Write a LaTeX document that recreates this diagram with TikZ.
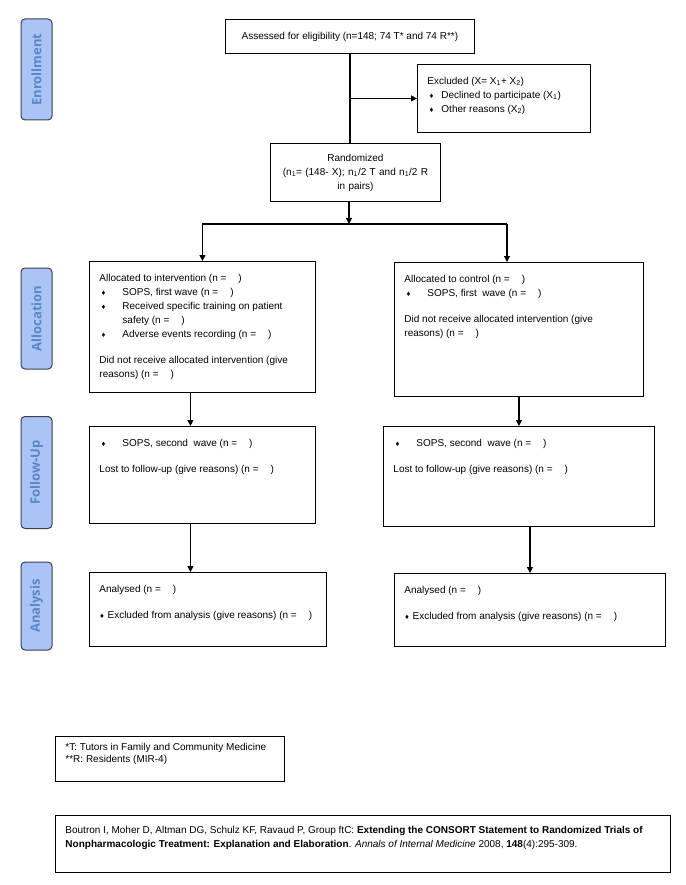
\documentclass[tikz,border=0pt]{standalone}
\usepackage{fontspec}
\setmainfont{Liberation Sans}
\newfontfamily\tabfont{Open Sans}
\newfontfamily\symfont{DejaVu Sans}
\usetikzlibrary{arrows.meta}

\definecolor{tabfill}{HTML}{A9C4F5}
\definecolor{tabtext}{HTML}{5B86C8}
\definecolor{tabline}{HTML}{3E3E4C}

\newcommand{\bul}{{\symfont\fontsize{6}{6}\selectfont ♦}}
\newcommand{\gap}{\hspace{12pt}}
\newcommand{\bitem}[1][23pt]{\par\hangindent=#1\hangafter=1\noindent\makebox[#1][l]{\hspace{1.5pt}\bul}}
\newcommand{\cell}[3]{\begin{minipage}[t][#2][t]{#1}#3\end{minipage}}

\tikzset{
    plainbox/.style={draw, line width=0.9pt, anchor=north west, inner sep=0pt, align=center},
    flowbox/.style={draw, line width=0.9pt, anchor=north west, inner xsep=10pt, inner ysep=12.5pt, align=left},
    stage/.style={draw=tabline, line width=1pt, fill=tabfill, rounded corners=4pt, rotate=90,
        minimum height=31pt, inner sep=0pt, text=tabtext, font=\tabfont\bfseries\fontsize{13}{13}\selectfont},
    link/.style={line width=1.1pt},
    arr/.style={link, -{Triangle[length=6pt,width=6pt]}}
}

\begin{document}
\begin{tikzpicture}[x=1pt, y=-1pt, font=\fontsize{10}{14}\selectfont]
        \useasboundingbox (0,0) rectangle (685,885);

        \node[stage, minimum width=101pt] (enroll) at (36.5, 69.5) {Enrollment};
        \node[stage, minimum width=101pt] (alloc) at (36.5, 318.5) {Allocation};
        \node[stage, minimum width=112pt] (follow) at (36.5, 472.5) {Follow-Up};
        \node[stage, minimum width=88pt] (analys) at (36.5, 606) {Analysis};

        \node[plainbox, minimum width=249pt, minimum height=34pt] (assess) at (225, 19)
            {Assessed for eligibility (n=148; 74 T* and 74 R**)};
        \node[flowbox] (excl) at (417, 64) {\cell{153pt}{43pt}{%
            Excluded (X= X\textsubscript{1}+ X\textsubscript{2})
            \bitem[14pt]Declined to participate (X\textsubscript{1})
            \bitem[14pt]Other reasons (X\textsubscript{2})}};
        \node[plainbox, text width=150pt, minimum width=170pt, minimum height=58pt] (rand) at (270, 143)
            {Randomized\\ (n\textsubscript{1}= (148- X); n\textsubscript{1}/2 T and n\textsubscript{1}/2 R\\ in pairs)};

        \node[flowbox] (interv) at (89, 261) {\cell{206pt}{106pt}{%
            Allocated to intervention (n =\gap)
            \bitem SOPS, first wave (n =\gap)
            \bitem Received specific training on patient\newline safety (n =\gap)
            \bitem Adverse events recording (n =\gap)
            \par\vspace{12pt}
            Did not receive allocated intervention (give\newline reasons) (n =\gap)}};
        \node[flowbox] (ctrl) at (394, 262) {\cell{229pt}{109pt}{%
            Allocated to control (n =\gap)
            \bitem SOPS, first\ \ wave (n =\gap)
            \par\vspace{12pt}
            Did not receive allocated intervention (give\newline reasons) (n =\gap)}};

        \node[flowbox] (fuL) at (89, 426) {\cell{206pt}{72pt}{%
            \bitem SOPS, second\ \ wave (n =\gap)
            \par\vspace{12pt}
            Lost to follow-up (give reasons) (n =\gap)}};
        \node[flowbox] (fuR) at (383, 426) {\cell{251pt}{75pt}{%
            \bitem SOPS, second\ \ wave (n =\gap)
            \par\vspace{12pt}
            Lost to follow-up (give reasons) (n =\gap)}};

        \node[flowbox] (anL) at (89, 572) {\cell{217pt}{49pt}{%
            Analysed (n =\gap)
            \par\vspace{12pt}
            \bul\ Excluded from analysis (give reasons) (n =\gap)}};
        \node[flowbox] (anR) at (394, 573) {\cell{251pt}{48pt}{%
            Analysed (n =\gap)
            \par\vspace{12pt}
            \bul\ Excluded from analysis (give reasons) (n =\gap)}};

        \node[flowbox, inner ysep=7pt, font=\fontsize{10}{12}\selectfont] (foot) at (55, 736) {\cell{209pt}{31pt}{%
            *T: Tutors in Family and Community Medicine\newline
            **R: Residents (MIR-4)}};
        \node[flowbox, inner ysep=10.5pt] (cite) at (55, 815) {\cell{595pt}{36pt}{%
            Boutron I, Moher D, Altman DG, Schulz KF, Ravaud P, Group ftC: \textbf{Extending the CONSORT Statement to Randomized Trials of}\newline
            \textbf{Nonpharmacologic Treatment: Explanation and Elaboration}. \textit{Annals of Internal Medicine} 2008, \textbf{148}(4):295-309.}};

        \coordinate (split) at (349, 224);
        \coordinate (rsplit) at (507, 224);

        \draw[link] (assess.south) -- (assess.south |- rand.north);
        \draw[arr] (assess.south |- excl.west) -- (excl.west);
        \draw[arr] (rand.south -| split) -- (split);
        \draw[link] (split -| interv.north) -- (rsplit);
        \draw[arr] (split -| interv.north) -- (interv.north);
        \draw[arr] (rsplit) -- (rsplit |- ctrl.north);

        \draw[arr] ([xshift=-12pt]interv.south) -- ([xshift=-12pt]interv.south |- fuL.north);
        \draw[arr] (ctrl.south) -- (ctrl.south |- fuR.north);
        \draw[arr] ([xshift=-12pt]fuL.south) -- ([xshift=-12pt]fuL.south |- anL.north);
        \draw[arr] (anR.north |- fuR.south) -- (anR.north);

    \end{tikzpicture}
\end{document}
